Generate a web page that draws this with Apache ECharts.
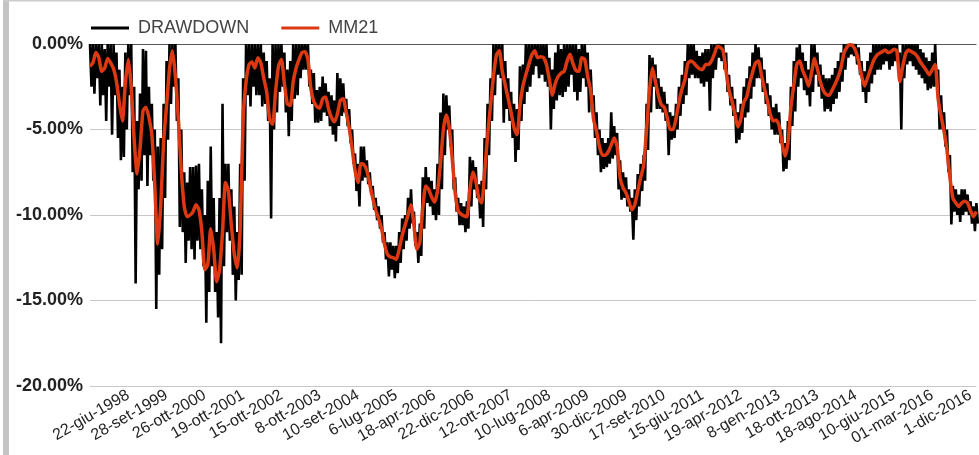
<!DOCTYPE html>
<html>
<head>
<meta charset="utf-8">
<script src="https://cdn.jsdelivr.net/npm/echarts@6/dist/echarts.min.js"></script>
<style>
  html, body { margin: 0; padding: 0; background: #fff; }
  #chart { width: 979px; height: 455px; }
</style>
</head>
<body>
<div id="chart"></div>
<script>
// etichette asse x (una ogni 13 punti)
const tickLabels = [
  '22-giu-1998', '28-set-1999', '26-ott-2000', '19-ott-2001', '15-ott-2002',
  '8-ott-2003', '10-set-2004', '6-lug-2005', '18-apr-2006', '22-dic-2006',
  '12-ott-2007', '10-lug-2008', '6-apr-2009', '30-dic-2009', '17-set-2010',
  '15-giu-2011', '19-apr-2012', '8-gen-2013', '18-ott-2013', '18-ago-2014',
  '10-giu-2015', '01-mar-2016', '1-dic-2016'
];
const yTicks = [-20, -15, -10, -5, 0];

// media mobile 21 (%)
const mm21 = [
  -1.3, -1.1, -0.5, -0.8, -1.6, -1.4, -0.85, -1.1, -1.45, -2.2,
  -3.5, -4.5, -2.3, -0.9, -2.5, -5.6, -7.6, -6.1, -3.9, -3.7,
  -4.3, -5.3, -8.3, -11.7, -9.5, -5.7, -3.6, -1.45, -0.4, -1.9,
  -4.4, -7.4, -9.5, -10.1, -10.0, -9.8, -9.4, -9.7, -11.0, -13.2,
  -12.9, -10.8, -12.0, -13.9, -13.2, -11.0, -8.1, -8.6, -10.6, -12.3,
  -13.1, -10.8, -4.4, -2.2, -1.2, -1.05, -1.4, -0.8, -1.1, -2.0,
  -2.8, -4.4, -4.7, -2.8, -1.3, -0.9, -2.3, -3.5, -3.6, -2.2,
  -1.4, -0.9, -0.5, -0.45, -0.9, -2.6, -3.35, -3.65, -3.75, -3.2,
  -3.1, -3.8, -4.3, -4.55, -4.1, -3.3, -3.2, -4.0, -4.9, -6.1,
  -7.4, -8.1, -7.0, -7.05, -7.4, -8.2, -9.0, -9.7, -10.2, -10.8,
  -11.7, -12.3, -12.45, -12.5, -12.6, -12.0, -11.2, -10.6, -10.0, -9.4,
  -10.6, -12.0, -11.6, -9.6, -8.3, -8.5, -8.95, -9.25, -8.6, -7.0,
  -5.0, -4.15, -4.9, -6.7, -8.7, -9.75, -9.95, -10.05, -10.1, -8.5,
  -7.5, -8.0, -9.0, -9.3, -7.5, -5.4, -3.6, -1.9, -0.65, -0.4,
  -1.6, -2.4, -3.2, -4.0, -4.9, -5.3, -3.6, -2.45, -1.8, -1.2,
  -0.65, -0.4, -0.8, -0.75, -0.8, -1.2, -2.1, -3.0, -2.3, -1.9,
  -1.7, -1.6, -1.0, -0.6, -1.15, -1.55, -1.6, -0.8, -0.9, -1.9,
  -2.7, -4.4, -5.1, -6.0, -6.5, -6.5, -6.3, -5.9, -5.5, -6.0,
  -7.8, -8.4, -8.7, -9.2, -9.7, -9.4, -8.6, -7.8, -7.1, -5.0,
  -2.7, -1.4, -2.2, -3.0, -3.55, -3.7, -4.3, -5.0, -5.0, -4.35,
  -3.4, -2.65, -2.1, -1.15, -1.0, -1.1, -1.3, -1.45, -1.5, -1.2,
  -1.2, -1.0, -0.6, -0.15, -0.2, -0.4, -1.6, -2.7, -3.35, -4.1,
  -4.85, -4.4, -3.4, -3.1, -2.3, -1.65, -1.1, -1.0, -1.8, -2.6,
  -3.3, -4.1, -4.5, -4.45, -4.75, -5.8, -6.55, -5.8, -3.7, -2.4,
  -1.2, -1.0, -1.55, -1.95, -2.45, -1.7, -0.85, -1.45, -2.2, -2.7,
  -2.95, -3.0, -2.7, -2.35, -1.95, -1.4, -0.55, -0.2, -0.05, -0.1,
  -0.4, -1.0, -1.85, -2.45, -2.0, -1.5, -1.0, -0.7, -0.55, -0.45,
  -0.35, -0.5, -0.45, -0.3, -0.4, -2.2, -1.3, -0.55, -0.35, -0.45,
  -0.55, -0.75, -1.05, -1.3, -1.55, -1.8, -1.5, -1.2, -3.2, -4.2,
  -5.1, -6.2, -7.8, -9.0, -9.3, -9.5, -9.3, -9.2, -9.3, -9.75,
  -10.1, -9.8
];

// drawdown giornaliero: massimo e minimo di ogni colonna (%)
const drawdownHigh = [
  0, 0, 0, 0, 0, -0.3, 0, 0, 0, -0.5,
  -1.5, -2.5, -0.5, 0, 0, -2.5, -4.5, -2.9, -0.3, -0.4,
  -2.5, -3.5, -5.0, -6.0, -5.5, -3.5, -1.0, 0, 0, 0,
  -2.0, -5.0, -7.5, -8.1, -7.2, -7.2, -7.1, -7.0, -8.5, -10.0,
  -8.0, -6.0, -9.0, -11.0, -9.0, -3.5, -7.0, -7.0, -8.5, -9.5,
  -11.0, -7.0, -2.0, 0, 0, 0, 0, 0, 0, -0.5,
  -1.0, -2.0, 0, 0, 0, 0, -0.5, -1.5, -1.0, 0,
  0, 0, 0, 0, 0, -1.5, -1.7, -2.7, -2.5, -1.9,
  -2.3, -2.8, -3.0, -3.3, -1.7, -2.0, -2.3, -3.2, -3.8, -5.0,
  -6.4, -7.0, -6.0, -6.0, -6.8, -7.5, -8.3, -9.0, -9.5, -10.0,
  -11.0, -11.6, -11.6, -11.8, -11.8, -11.0, -10.2, -10.0, -9.0, -8.5,
  -9.8, -11.0, -10.5, -7.8, -7.2, -7.8, -8.0, -8.5, -7.0, -4.0,
  -2.9, -3.0, -3.6, -5.0, -7.8, -9.0, -9.3, -9.5, -9.2, -6.6,
  -6.8, -7.2, -8.2, -8.0, -5.5, -3.5, -2.0, 0, 0, 0,
  0, -1.0, -2.0, -2.8, -3.5, -3.8, -1.3, -1.2, 0, 0,
  0, 0, 0, 0, 0, 0, -0.8, -1.5, -0.5, 0,
  -0.3, 0, 0, 0, 0, 0, -0.3, 0, 0, -0.5,
  -1.5, -3.0, -4.0, -5.0, -5.5, -5.8, -5.5, -4.0, -4.8, -5.2,
  -6.8, -7.5, -7.8, -8.5, -9.0, -8.5, -7.6, -7.0, -6.5, -3.5,
  -0.65, -0.8, -1.2, -2.0, -2.5, -2.8, -3.5, -4.0, -4.2, -3.5,
  -2.5, -1.8, -1.0, 0, 0, 0, -0.4, -0.7, -0.5, -0.3,
  -0.3, 0, 0, 0, 0, 0, -0.5, -1.8, -2.5, -3.2,
  -4.0, -3.5, -2.5, -2.0, -1.3, -0.5, 0, -0.2, -0.8, -1.5,
  -2.3, -3.0, -3.7, -3.5, -4.0, -5.0, -5.8, -4.5, -2.5, -1.0,
  -0.2, 0, -0.5, -1.0, -1.5, 0, 0, -0.5, -1.2, -1.8,
  -2.0, -2.0, -1.8, -1.4, -1.0, -0.5, 0, 0, 0, 0,
  0, -0.2, -1.0, -1.6, -1.0, -0.5, 0, 0, 0, 0,
  0, 0, 0, 0, 0, -0.5, 0, 0, 0, 0,
  0, 0, -0.3, -0.5, -0.8, -1.0, -0.5, 0, -1.5, -3.0,
  -4.0, -5.0, -6.5, -8.3, -8.5, -8.8, -8.5, -8.5, -8.8, -9.2,
  -9.5, -9.3
];
const drawdownLow = [
  -2.5, -2.9, -2.0, -3.6, -3.0, -4.5, -2.5, -5.3, -3.0, -5.5,
  -6.8, -6.6, -5.0, -3.0, -7.5, -14.0, -8.5, -8.0, -6.5, -8.3,
  -6.5, -8.0, -15.5, -13.5, -12.0, -9.0, -5.6, -3.5, -2.5, -4.5,
  -10.7, -11.0, -12.8, -11.5, -12.0, -12.6, -11.5, -12.0, -13.0, -16.3,
  -14.5, -13.0, -14.5, -16.0, -17.5, -13.0, -11.0, -11.5, -13.5, -15.0,
  -13.8, -13.5, -8.0, -3.0, -3.65, -2.5, -3.0, -3.0, -3.65, -3.5,
  -4.5, -10.2, -5.0, -4.0, -2.8, -2.5, -4.0, -5.4, -4.5, -3.2,
  -3.0, -2.0, -1.5, -1.5, -2.5, -3.5, -4.6, -4.6, -4.5, -4.0,
  -4.2, -4.8, -5.3, -5.7, -4.8, -4.2, -4.0, -4.8, -5.8, -7.0,
  -8.6, -9.5, -8.0, -7.8, -8.2, -8.8, -9.7, -10.3, -10.8, -11.6,
  -12.6, -13.6, -13.2, -13.7, -13.4, -12.8, -12.0, -11.5, -10.8, -10.5,
  -11.8, -12.8, -12.4, -10.8, -9.3, -9.5, -10.0, -10.3, -10.0, -8.5,
  -6.5, -5.0, -6.0, -8.5, -9.8, -10.6, -10.6, -11.0, -10.8, -9.5,
  -8.5, -9.0, -10.2, -10.7, -8.5, -6.5, -4.5, -3.0, -1.8, -2.0,
  -4.6, -3.8, -4.5, -5.5, -6.9, -6.2, -4.5, -3.5, -2.8, -2.5,
  -1.8, -1.3, -2.0, -1.8, -2.2, -2.5, -5.0, -3.8, -3.3, -3.0,
  -3.1, -2.8, -2.5, -1.8, -2.8, -3.3, -2.8, -2.0, -2.5, -4.0,
  -3.5, -5.5, -6.5, -7.5, -7.3, -7.2, -7.0, -6.7, -6.5, -8.5,
  -9.1, -9.0, -9.5, -9.8, -11.45, -10.3, -9.5, -8.6, -8.0, -6.2,
  -4.0, -2.5, -3.8, -3.8, -4.0, -4.5, -6.5, -5.6, -5.5, -5.0,
  -4.2, -3.5, -3.0, -2.0, -1.8, -2.0, -2.0, -2.3, -2.5, -2.2,
  -3.9, -2.0, -1.5, -0.8, -1.0, -1.5, -2.8, -3.6, -4.2, -5.8,
  -5.6, -5.2, -4.3, -4.0, -3.2, -2.5, -2.0, -2.0, -2.8, -3.5,
  -4.2, -5.0, -5.3, -5.3, -5.8, -7.45, -7.3, -6.8, -4.8, -3.95,
  -2.5, -2.0, -2.7, -3.0, -3.65, -2.8, -1.8, -2.5, -3.2, -3.95,
  -3.8, -3.95, -3.5, -3.2, -2.8, -2.2, -1.5, -0.8, -0.6, -0.7,
  -1.2, -1.8, -2.8, -3.45, -2.8, -2.3, -1.8, -1.5, -1.5, -1.2,
  -1.0, -1.5, -1.3, -1.0, -1.2, -5.0, -2.0, -1.2, -1.0, -1.3,
  -1.5, -1.8, -2.0, -2.3, -2.7, -2.6, -2.5, -2.5, -5.0, -5.0,
  -6.0, -7.5, -10.55, -9.8, -10.0, -10.4, -10.0, -9.8, -10.0, -10.5,
  -10.95, -10.5
];

const LABEL_STEP = 13;
const FONT = 'Arial, "Liberation Sans", sans-serif';

// massimo e minimo di ogni colonna, alternati
const drawdownData = [];
drawdownHigh.forEach((v, i) => {
  drawdownData.push([i, v]);
  drawdownData.push([i + 0.5, drawdownLow[i]]);
});
const mmData = mm21.map((v, i) => [i, v]);

const chart = echarts.init(document.getElementById('chart'));
chart.setOption({
  animation: false,
  backgroundColor: '#fff',
  textStyle: { fontFamily: FONT },
  graphic: [
    { type: 'rect', shape: { x: 3, y: 0, width: 6, height: 455 }, style: { fill: '#c4c4c4' }, silent: true },
    { type: 'rect', shape: { x: 3, y: 0, width: 976, height: 1.5 }, style: { fill: '#cccccc' }, silent: true }
  ],
  legend: {
    data: ['DRAWDOWN', 'MM21'],
    left: 86,
    top: 14,
    icon: 'rect',
    itemWidth: 38,
    itemHeight: 3,
    itemGap: 32,
    textStyle: { fontSize: 18, color: '#444', fontFamily: FONT, padding: [0, 0, 0, 4] }
  },
  grid: { left: 90, right: 0, top: 44, bottom: 69 },
  xAxis: {
    type: 'value',
    min: 0,
    max: mm21.length - 1,
    interval: LABEL_STEP,
    axisLine: { show: false },
    axisTick: { show: false },
    splitLine: { show: false },
    axisLabel: {
      rotate: 30,
      margin: 8,
      fontSize: 16,
      color: '#222',
      fontFamily: FONT,
      formatter: v => (v % LABEL_STEP === 0 && v > 0 ? (tickLabels[v / LABEL_STEP - 1] || '') : '')
    }
  },
  yAxis: {
    type: 'value',
    min: yTicks[0],
    max: yTicks[yTicks.length - 1],
    interval: 5,
    axisLine: { show: false },
    axisTick: { show: false },
    axisLabel: {
      margin: 7,
      fontSize: 18,
      fontWeight: 'bold',
      color: '#222',
      fontFamily: FONT,
      formatter: v => v.toFixed(2) + '%'
    },
    splitLine: {
      lineStyle: { color: ['#c8c8c8', '#c8c8c8', '#c8c8c8', '#c8c8c8', '#555'], width: 1 }
    }
  },
  series: [
    {
      name: 'DRAWDOWN',
      type: 'line',
      data: drawdownData,
      showSymbol: false,
      color: '#000',
      lineStyle: { color: '#000', width: 2.6 }
    },
    {
      name: 'MM21',
      type: 'line',
      data: mmData,
      showSymbol: false,
      smooth: 0.2,
      color: '#dc3912',
      lineStyle: { color: '#dc3912', width: 3.5 }
    }
  ]
});
</script>
</body>
</html>
